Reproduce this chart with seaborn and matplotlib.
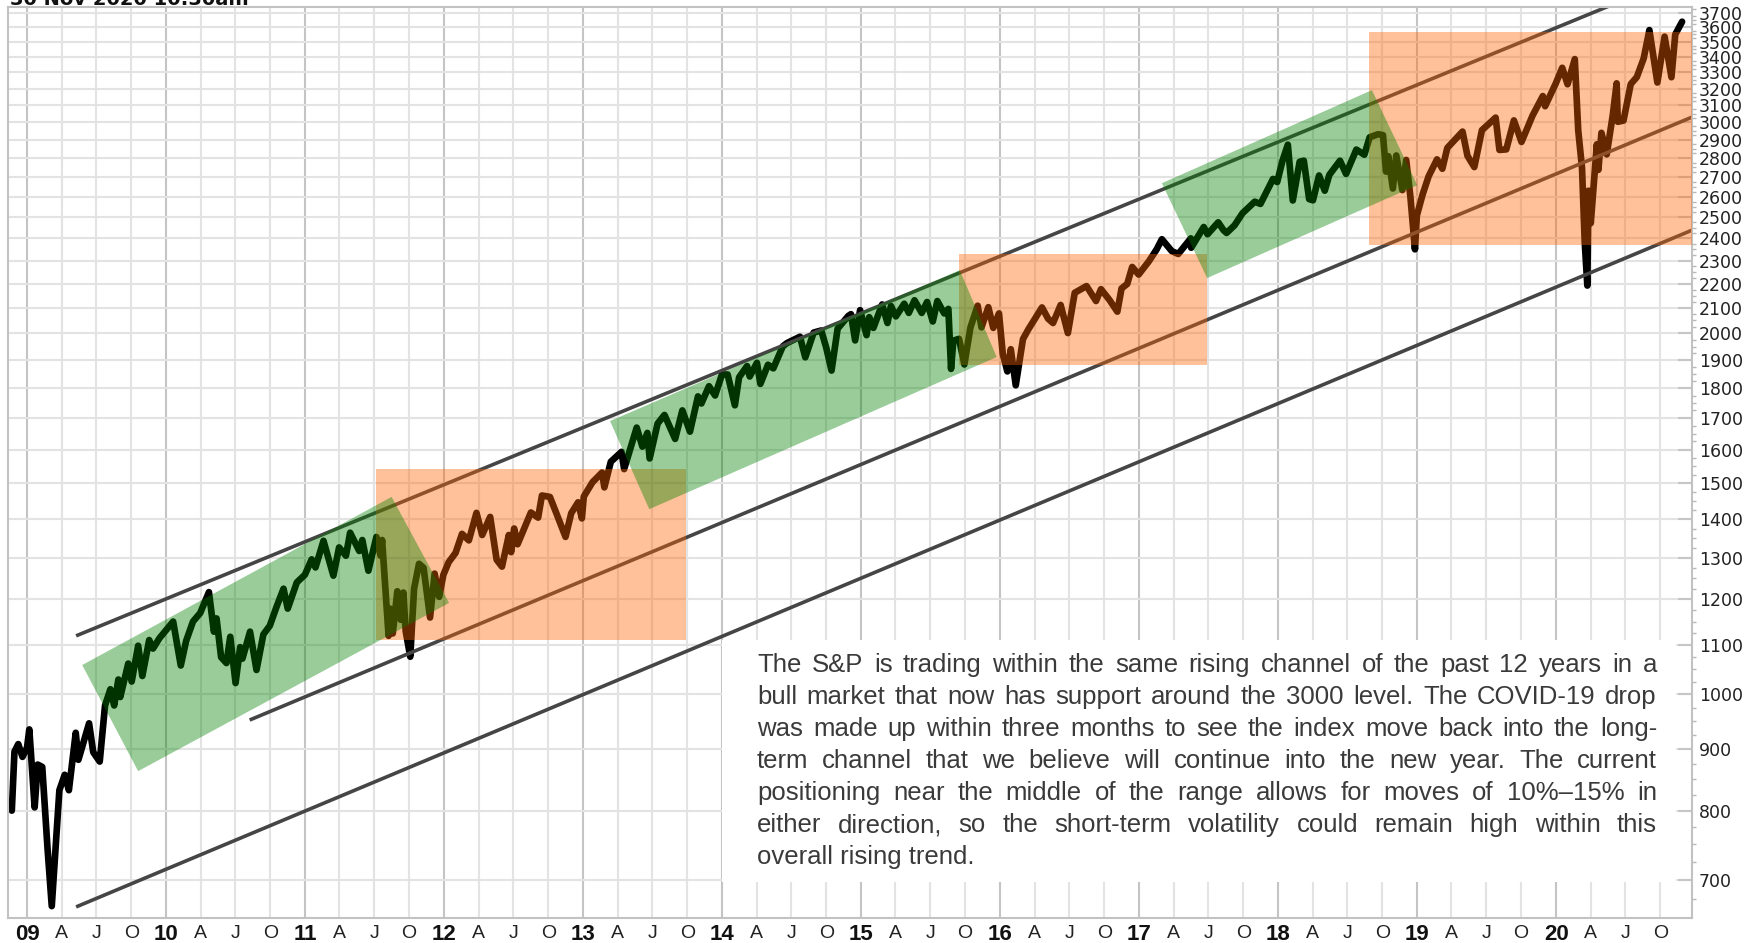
import matplotlib
matplotlib.use('Agg')
import matplotlib.pyplot as plt
import matplotlib.dates as mdates
import matplotlib.ticker as mticker
from matplotlib.patches import Polygon, Rectangle
import seaborn as sns
import pandas as pd

# S&P 500 (roughly every two weeks, plus the swing highs / lows)
dates = [
    '2008-11-21', '2008-11-28', '2008-12-08', '2008-12-19', '2008-12-31',
    '2009-01-06', '2009-01-20', '2009-01-28', '2009-02-09', '2009-02-23', '2009-03-06', '2009-03-26',
    '2009-04-09', '2009-04-20', '2009-05-08', '2009-05-15', '2009-06-12', '2009-06-23', '2009-07-10',
    '2009-07-24', '2009-08-07', '2009-08-17', '2009-08-28', '2009-09-02', '2009-09-23', '2009-10-02',
    '2009-10-19', '2009-10-30', '2009-11-17', '2009-11-27', '2009-12-14', '2009-12-28',
    '2010-01-19', '2010-02-08', '2010-02-22', '2010-03-12', '2010-03-31', '2010-04-23', '2010-05-06',
    '2010-05-13', '2010-05-25', '2010-06-08', '2010-06-18', '2010-07-02', '2010-07-14', '2010-07-20',
    '2010-08-09', '2010-08-26', '2010-09-13', '2010-09-30', '2010-10-18', '2010-11-05', '2010-11-16',
    '2010-12-10', '2010-12-31',
    '2011-01-18', '2011-01-28', '2011-02-18', '2011-03-16', '2011-03-31', '2011-04-18', '2011-04-29',
    '2011-05-23', '2011-05-31', '2011-06-16', '2011-07-07', '2011-07-18', '2011-07-22', '2011-08-08',
    '2011-08-12', '2011-08-19', '2011-08-31', '2011-09-09', '2011-09-16', '2011-09-22', '2011-10-04',
    '2011-10-14', '2011-10-27', '2011-11-08', '2011-11-25', '2011-12-07', '2011-12-19', '2011-12-30',
    '2012-01-13', '2012-01-31', '2012-02-17', '2012-03-06', '2012-03-26', '2012-04-10', '2012-05-01',
    '2012-05-18', '2012-06-01', '2012-06-19', '2012-06-25', '2012-07-03', '2012-07-12', '2012-08-16',
    '2012-09-04', '2012-09-14', '2012-10-05', '2012-10-23', '2012-11-15', '2012-11-30', '2012-12-18',
    '2012-12-28',
    '2013-01-02', '2013-01-25', '2013-02-19', '2013-02-25', '2013-03-14', '2013-04-11', '2013-04-18',
    '2013-05-21', '2013-06-05', '2013-06-18', '2013-06-24', '2013-07-15', '2013-08-02', '2013-08-30',
    '2013-09-18', '2013-10-08', '2013-10-29', '2013-11-07', '2013-11-27', '2013-12-13', '2013-12-31',
    '2014-01-15', '2014-02-03', '2014-02-14', '2014-03-07', '2014-03-14', '2014-04-02', '2014-04-11',
    '2014-05-01', '2014-05-15', '2014-06-09', '2014-06-20', '2014-07-24', '2014-08-07', '2014-08-29',
    '2014-09-18', '2014-10-01', '2014-10-15', '2014-10-31', '2014-11-28', '2014-12-05', '2014-12-16',
    '2014-12-29',
    '2015-01-15', '2015-01-22', '2015-02-02', '2015-02-25', '2015-03-11', '2015-03-20', '2015-04-02',
    '2015-04-24', '2015-05-06', '2015-05-21', '2015-06-09', '2015-06-23', '2015-07-08', '2015-07-20',
    '2015-08-07', '2015-08-18', '2015-08-25', '2015-08-31', '2015-09-15', '2015-09-29', '2015-10-15',
    '2015-11-03', '2015-11-13', '2015-12-01', '2015-12-14', '2015-12-29',
    '2016-01-08', '2016-01-20', '2016-01-29', '2016-02-11', '2016-03-01', '2016-03-15', '2016-04-20',
    '2016-05-06', '2016-05-19', '2016-06-08', '2016-06-27', '2016-07-15', '2016-08-15', '2016-09-09',
    '2016-09-22', '2016-10-14', '2016-11-04', '2016-11-15', '2016-11-30', '2016-12-13', '2016-12-30',
    '2017-01-26', '2017-02-15', '2017-03-01', '2017-03-27', '2017-04-13', '2017-05-16', '2017-05-17',
    '2017-06-19', '2017-06-29', '2017-07-27', '2017-08-10', '2017-08-18', '2017-09-08', '2017-09-29',
    '2017-10-31', '2017-11-15', '2017-12-18', '2017-12-29',
    '2018-01-12', '2018-01-26', '2018-02-08', '2018-02-26', '2018-03-09', '2018-03-23', '2018-04-02',
    '2018-04-18', '2018-05-03', '2018-05-15', '2018-06-12', '2018-06-28', '2018-07-25', '2018-08-15',
    '2018-08-29', '2018-09-20', '2018-10-03', '2018-10-11', '2018-10-17', '2018-10-29', '2018-11-07',
    '2018-11-23', '2018-12-03', '2018-12-14', '2018-12-26', '2018-12-31',
    '2019-01-15', '2019-01-31', '2019-02-22', '2019-03-08', '2019-03-21', '2019-04-30', '2019-05-13',
    '2019-05-31', '2019-06-20', '2019-07-26', '2019-08-05', '2019-08-23', '2019-09-12', '2019-10-02',
    '2019-10-31', '2019-11-27', '2019-12-03', '2019-12-31',
    '2020-01-17', '2020-01-31', '2020-02-19', '2020-02-28', '2020-03-09', '2020-03-16', '2020-03-23',
    '2020-03-26', '2020-04-01', '2020-04-17', '2020-04-21', '2020-04-29', '2020-05-13', '2020-05-29',
    '2020-06-08', '2020-06-11', '2020-06-26', '2020-07-15', '2020-07-31', '2020-08-18', '2020-09-02',
    '2020-09-23', '2020-10-12', '2020-10-30', '2020-11-09', '2020-11-27',
]
closes = [
    800, 896, 909, 887, 903,
    935, 805, 874, 870, 743, 666, 832,
    857, 832, 929, 882, 946, 895, 879,
    979, 1010, 979, 1029, 995, 1061, 1025,
    1098, 1036, 1110, 1092, 1114, 1128,
    1150, 1057, 1108, 1150, 1169, 1217, 1128,
    1157, 1074, 1062, 1117, 1022, 1095, 1071,
    1128, 1048, 1122, 1141, 1184, 1225, 1179,
    1240, 1258,
    1296, 1276, 1343, 1256, 1326, 1305, 1364,
    1317, 1345, 1268, 1353, 1305, 1345, 1119,
    1179, 1124, 1219, 1154, 1216, 1129, 1075,
    1225, 1285, 1275, 1159, 1261, 1206, 1258,
    1289, 1312, 1361, 1344, 1417, 1358, 1406,
    1295, 1278, 1358, 1314, 1375, 1334, 1418,
    1404, 1465, 1461, 1413, 1353, 1416, 1446,
    1402,
    1462, 1503, 1531, 1488, 1563, 1593, 1541,
    1669, 1609, 1652, 1573, 1682, 1710, 1633,
    1725, 1656, 1772, 1748, 1807, 1775, 1848,
    1848, 1742, 1838, 1878, 1841, 1890, 1815,
    1883, 1870, 1951, 1963, 1987, 1910, 2003,
    2011, 1946, 1862, 2018, 2068, 2075, 1973,
    2091,
    1993, 2063, 2021, 2114, 2040, 2108, 2066,
    2117, 2080, 2131, 2080, 2124, 2046, 2128,
    2078, 2096, 1868, 1972, 1979, 1884, 2023,
    2109, 2023, 2103, 2021, 2078,
    1922, 1859, 1940, 1810, 1978, 2015, 2102,
    2057, 2040, 2112, 2001, 2162, 2190, 2128,
    2177, 2133, 2085, 2180, 2199, 2272, 2239,
    2297, 2349, 2396, 2342, 2329, 2400, 2357,
    2453, 2419, 2475, 2438, 2425, 2461, 2519,
    2575, 2564, 2690, 2674,
    2786, 2873, 2581, 2780, 2786, 2588, 2582,
    2708, 2630, 2711, 2786, 2716, 2846, 2818,
    2914, 2931, 2926, 2728, 2810, 2641, 2814,
    2633, 2790, 2600, 2350, 2507,
    2610, 2704, 2793, 2743, 2855, 2946, 2812,
    2752, 2954, 3026, 2844, 2847, 3010, 2888,
    3038, 3154, 3093, 3231,
    3330, 3226, 3386, 2954, 2747, 2386, 2192,
    2630, 2471, 2875, 2737, 2939, 2820, 3044,
    3232, 3002, 3009, 3227, 3271, 3390, 3580,
    3237, 3535, 3270, 3550, 3638,
]

# trend channel lines: start date, start level, end date, end level
chan_start = ['2009-05-09', '2010-08-08', '2009-05-09']
chan_start_lvl = [1119, 952, 665]
chan_end = ['2020-06-26', '2020-12-23', '2020-12-23']
chan_end_lvl = [3792, 3029, 2438]

# orange consolidation boxes
orange_x0 = ['2011-07-05', '2015-09-16', '2018-08-28']
orange_x1 = ['2013-09-27', '2017-06-28', '2020-12-31']
orange_lo = [1110, 1882, 2369]
orange_hi = [1541, 2329, 3565]

# green trend bands (4 corners each)
green_dates = [
    ['2009-05-25', '2011-08-16', '2012-01-14', '2009-10-19'],
    ['2013-03-12', '2015-09-17', '2015-12-23', '2013-06-23'],
    ['2017-03-01', '2018-09-04', '2019-01-01', '2017-06-28'],
]
green_lvls = [
    [1058, 1461, 1192, 863],
    [1690, 2258, 1911, 1427],
    [2668, 3190, 2658, 2224],
]

y_ticks = list(range(700, 3800, 100))

note_lines = [
    'The S&P is trading within the same rising channel of the past 12 years in a',
    'bull market that now has support around the 3000 level. The COVID-19 drop',
    'was made up within three months to see the index move back into the long-',
    'term channel that we believe will continue into the new year. The current',
    'positioning near the middle of the range allows for moves of 10%\u201315% in',
    'either direction, so the short-term volatility could remain high within this',
    'overall rising trend.',
]

sns.set_style('white')
plt.rcParams['font.family'] = ['DejaVu Sans']

W, H = 1761, 943
fig = plt.figure(figsize=(W / 100, H / 100), dpi=100)
ax = fig.add_axes([8 / W, 25 / H, 1684 / W, 911 / H])

df = pd.DataFrame({'date': pd.to_datetime(dates), 'close': closes})
sns.lineplot(data=df, x='date', y='close', ax=ax, color='black', lw=4.8,
             estimator=None, zorder=2)

# channel lines
for d0, v0, d1, v1 in zip(chan_start, chan_start_lvl, chan_end, chan_end_lvl):
    ax.plot([pd.Timestamp(d0), pd.Timestamp(d1)], [v0, v1], color='#454545',
            lw=2.6, solid_capstyle='butt', zorder=2.5)

# shaded zones, drawn over the price so it shows through darker
for x0, x1, lo, hi in zip(orange_x0, orange_x1, orange_lo, orange_hi):
    n0 = mdates.date2num(pd.Timestamp(x0))
    n1 = mdates.date2num(pd.Timestamp(x1))
    ax.add_patch(Rectangle((n0, lo), n1 - n0, hi - lo, facecolor='#ff6400',
                           alpha=0.4, edgecolor='none', zorder=3))
for ds, vs in zip(green_dates, green_lvls):
    pts = [(mdates.date2num(pd.Timestamp(d)), v) for d, v in zip(ds, vs)]
    ax.add_patch(Polygon(pts, closed=True, facecolor='#008000', alpha=0.4,
                         edgecolor='none', zorder=3))

ax.set_yscale('log')
ax.set_ylim(651, 3742)
ax.set_xlim(pd.Timestamp('2008-11-11'), pd.Timestamp('2020-12-23'))

# axes
ax.yaxis.tick_right()
ax.yaxis.set_major_locator(mticker.FixedLocator(y_ticks))
ax.yaxis.set_major_formatter(mticker.FuncFormatter(lambda v, p: f'{v:.0f}'))
ax.yaxis.set_minor_locator(mticker.FixedLocator([v for v in range(675, 3750, 25) if v % 100]))
ax.yaxis.set_minor_formatter(mticker.NullFormatter())
ax.tick_params(axis='y', which='major', direction='in', length=10, width=1.5,
               color='#c6c6c6', labelsize=12.5, pad=5, labelcolor='#222222')
ax.tick_params(axis='y', which='minor', direction='out', length=3, width=1,
               color='#b8b8b8')

ax.xaxis.set_major_locator(mdates.YearLocator())
ax.xaxis.set_major_formatter(mdates.DateFormatter('%y'))
ax.xaxis.set_minor_locator(mdates.MonthLocator([4, 7, 10]))
ax.xaxis.set_minor_formatter(mticker.FuncFormatter(
    lambda v, p: mdates.num2date(v).strftime('%b')[0]))
ax.tick_params(axis='x', which='major', length=0, pad=4, labelsize=16, labelcolor='#111111')
ax.tick_params(axis='x', which='minor', length=0, pad=5, labelsize=14, labelcolor='#222222')
for lbl in ax.get_xticklabels():
    lbl.set_fontweight('bold')
    lbl.set_family('Liberation Sans')
for lbl in ax.get_xticklabels(minor=True):
    lbl.set_family('Liberation Sans')

ax.grid(True, which='major', axis='x', color='#c4c4c4', lw=1.5)
ax.grid(True, which='minor', axis='x', color='#e3e3e3', lw=1.5)
ax.grid(True, which='major', axis='y', color='#e3e3e3', lw=1.5)
ax.set_axisbelow(True)
for side in ['left', 'top', 'bottom', 'right']:
    ax.spines[side].set_color('#c2c2c2')
    ax.spines[side].set_linewidth(1.5)
ax.set_xlabel('')
ax.set_ylabel('')

# white box behind the commentary
ax.add_patch(Rectangle((0.424, 0.0395), 0.5665, 0.2655, transform=ax.transAxes,
                       facecolor='white', edgecolor='none', zorder=4))

# timestamp at the top, mostly cut off as in the original
fig.text(10 / W, 1 - 5 / H, '30 Nov 2020 10:30am', fontsize=14, fontweight='bold',
         color='#111111', va='baseline')

# justified commentary text
fig.canvas.draw()
renderer = fig.canvas.get_renderer()
left_px, right_px = 757, 1657
kw = dict(fontsize=18.5, family='Liberation Sans', color='#3a3a3a', va='baseline', zorder=5)
for i, line in enumerate(note_lines):
    y = (H - (672 + 32 * i)) / H
    if i == len(note_lines) - 1:
        fig.text(left_px / W, y, line, **kw)
        continue
    words = line.split(' ')
    objs = [fig.text(0, y, w, **kw) for w in words]
    widths = [o.get_window_extent(renderer).width for o in objs]
    gap = max((right_px - left_px - sum(widths)) / (len(words) - 1), 4)
    x = left_px
    for o, w in zip(objs, widths):
        o.set_x(x / W)
        x += w + gap

fig.savefig('out.png', dpi=100)
